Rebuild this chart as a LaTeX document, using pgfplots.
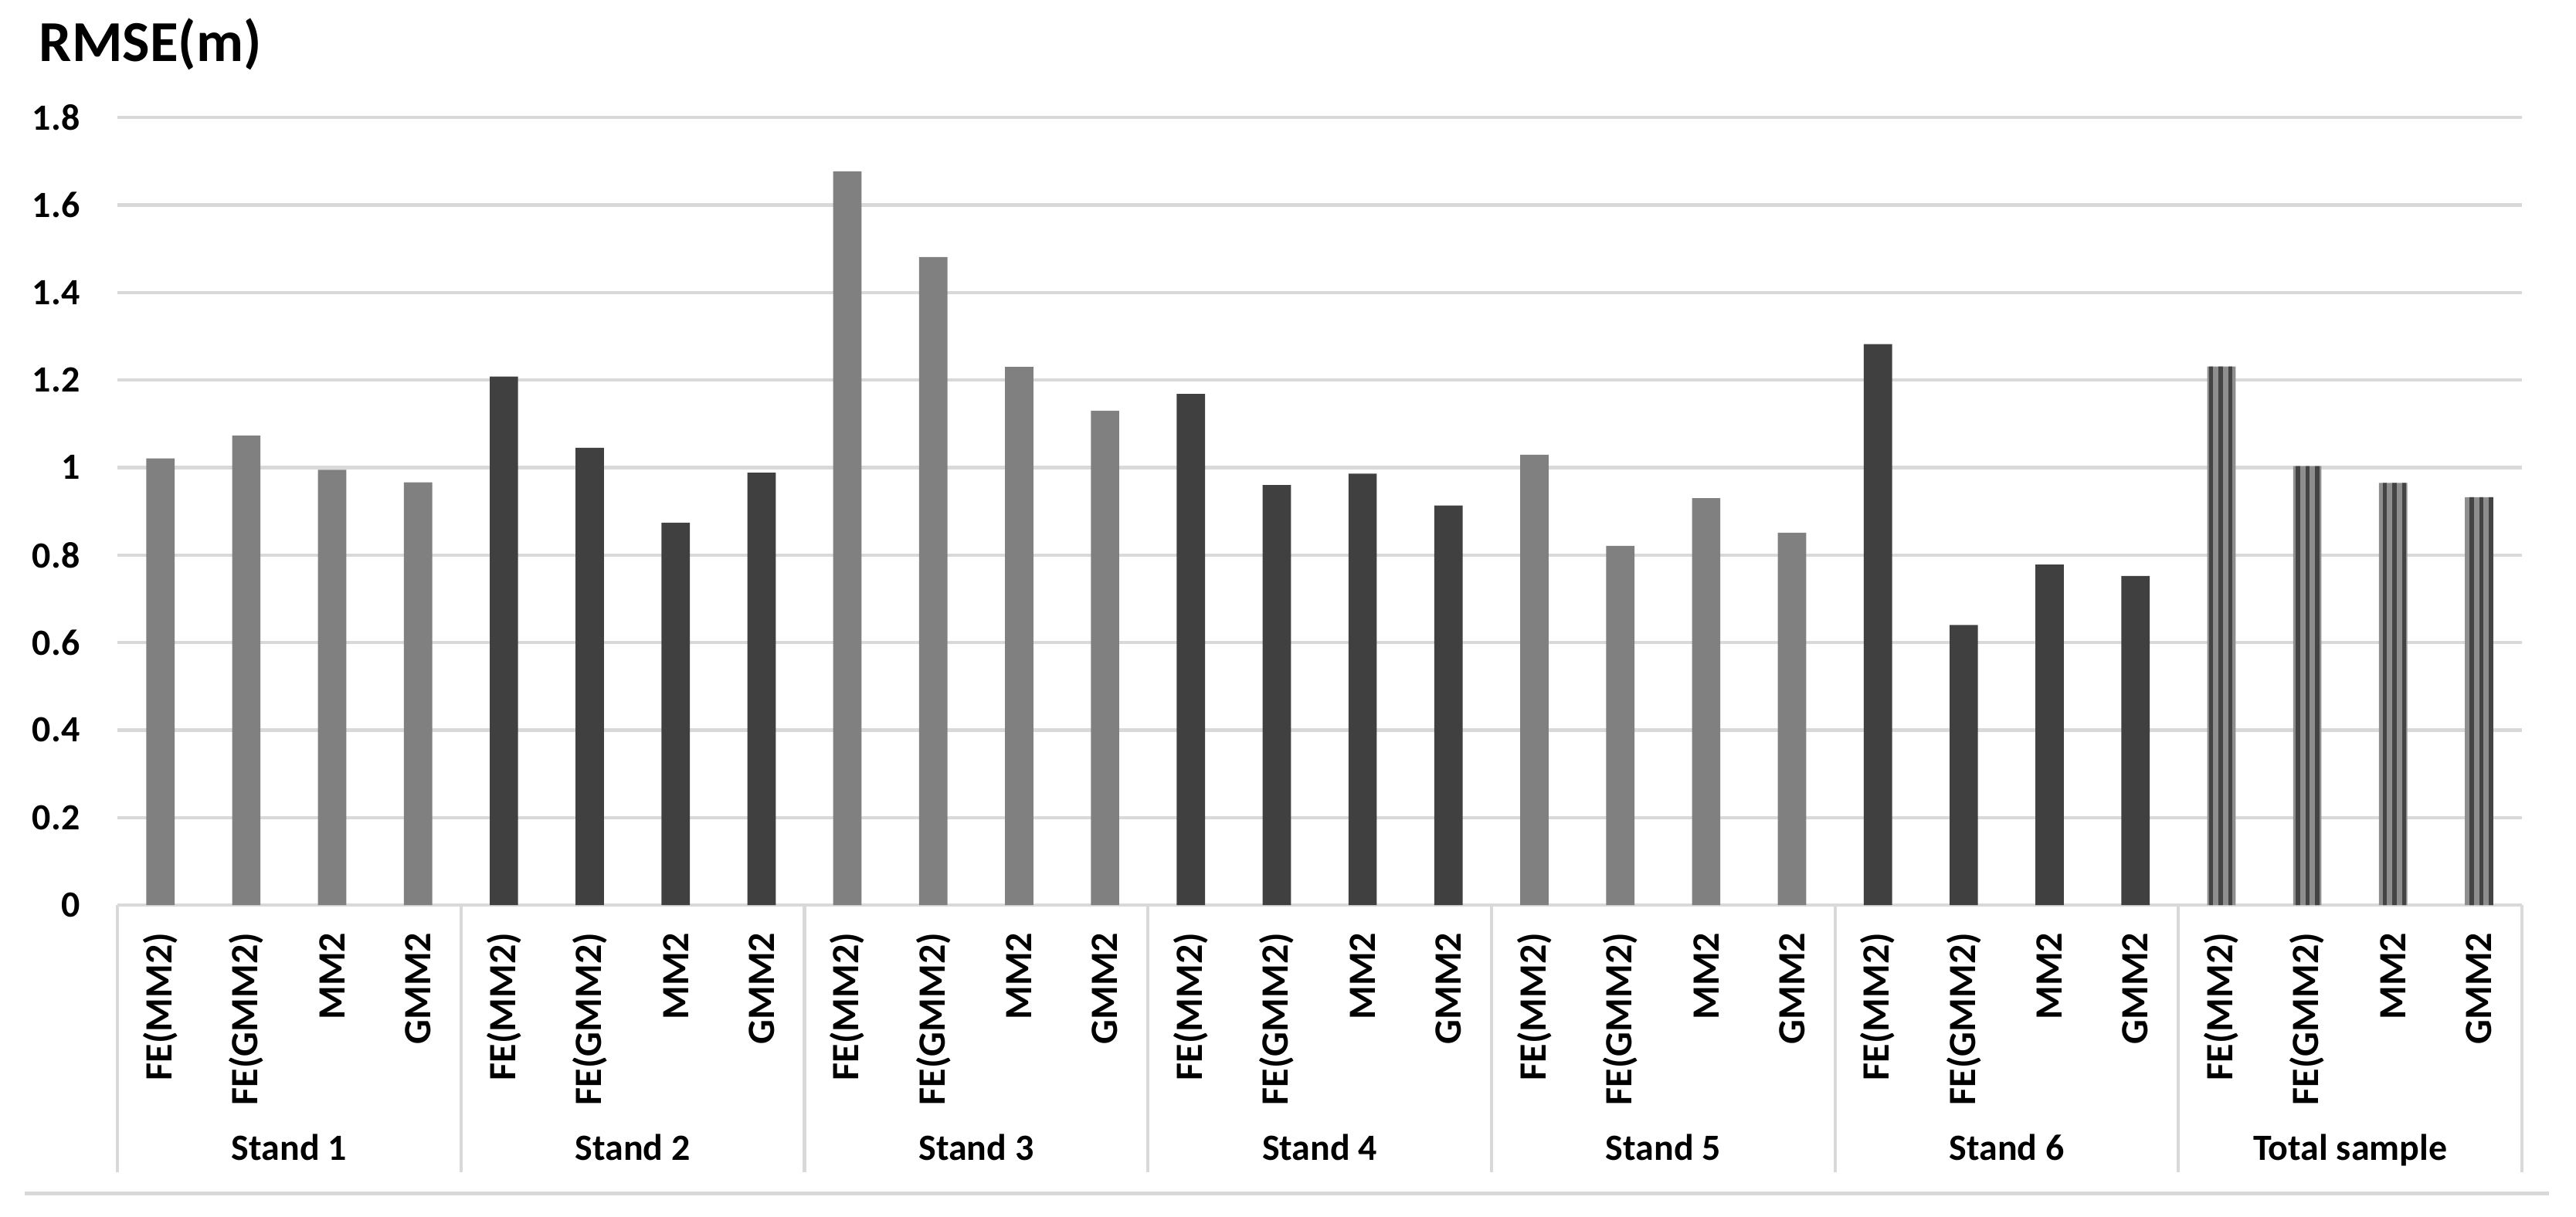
\documentclass[border=0pt]{standalone}
\usepackage{fontspec}
\setmainfont{Carlito}
\usepackage{pgfplots}
\pgfplotsset{compat=1.18}
\usetikzlibrary{patterns.meta}
\definecolor{lightbar}{HTML}{808080}
\definecolor{darkbar}{HTML}{404040}
\definecolor{gridc}{HTML}{D9D9D9}
\definecolor{totfill}{HTML}{8E8E8E}
\definecolor{totline}{HTML}{444444}
\newcommand{\lblfont}{\fontsize{11.5}{13}\selectfont\bfseries}
\begin{document}
\begin{tikzpicture}
\path[use as bounding box] (0,0) rectangle (800.4pt,378pt);
\begin{axis}[
  at={(36.5pt,96.7pt)}, anchor=south west,
  scale only axis, width=747.1pt, height=244.8pt,
  xmin=-0.5, xmax=27.5, ymin=0, ymax=1.8,
  enlargelimits=false, clip=false,
  axis line style={draw=none},
  major tick length=0pt,
  ymajorgrids, grid style={gridc, line width=1pt},
  ytick={0,0.2,0.4,0.6,0.8,1,1.2,1.4,1.6,1.8},
  /pgf/number format/fixed,
  /pgf/number format/assume math mode=true,
  yticklabel style={font=\lblfont, inner sep=0pt, anchor=east},
  yticklabel shift=11.5pt,
  xtick={0,...,27},
  xticklabels={FE(MM2),FE(GMM2),MM2,GMM2,FE(MM2),FE(GMM2),MM2,GMM2,FE(MM2),FE(GMM2),MM2,GMM2,FE(MM2),FE(GMM2),MM2,GMM2,FE(MM2),FE(GMM2),MM2,GMM2,FE(MM2),FE(GMM2),MM2,GMM2,FE(MM2),FE(GMM2),MM2,GMM2},
  xticklabel style={rotate=90, anchor=east, inner sep=0pt, font=\fontsize{12}{14}\selectfont\bfseries},
  xticklabel shift=8.4pt,
  ybar, bar width=0.33, bar shift=0pt,
]
% Stands 1, 3, 5 (light)
\addplot[fill=lightbar, draw=none] coordinates {
  (0,1.021) (1,1.073) (2,0.995) (3,0.966)
  (8,1.677) (9,1.481) (10,1.230) (11,1.130)
  (16,1.029) (17,0.821) (18,0.930) (19,0.851)
};
% Stands 2, 4, 6 (dark)
\addplot[fill=darkbar, draw=none] coordinates {
  (4,1.208) (5,1.045) (6,0.874) (7,0.988)
  (12,1.168) (13,0.960) (14,0.986) (15,0.913)
  (20,1.282) (21,0.640) (22,0.778) (23,0.752)
};
% Total sample (patterned)
\addplot[fill=totfill, draw=none, postaction={pattern={Lines[angle=90,distance=3pt,line width=1.4pt]}, pattern color=totline}] coordinates {
  (24,1.231) (25,1.003) (26,0.965) (27,0.932)
};
\pgfplotsinvokeforeach{-0.5,3.5,7.5,11.5,15.5,19.5,23.5,27.5}{
  \draw[gridc, line width=1pt] (axis cs:#1,0) -- ([yshift=-83pt]axis cs:#1,0);
}
\node[anchor=base, font=\lblfont, yshift=-79.2pt] at (axis cs:1.5,0) {Stand 1};
\node[anchor=base, font=\lblfont, yshift=-79.2pt] at (axis cs:5.5,0) {Stand 2};
\node[anchor=base, font=\lblfont, yshift=-79.2pt] at (axis cs:9.5,0) {Stand 3};
\node[anchor=base, font=\lblfont, yshift=-79.2pt] at (axis cs:13.5,0) {Stand 4};
\node[anchor=base, font=\lblfont, yshift=-79.2pt] at (axis cs:17.5,0) {Stand 5};
\node[anchor=base, font=\lblfont, yshift=-79.2pt] at (axis cs:21.5,0) {Stand 6};
\node[anchor=base, font=\lblfont, yshift=-79.2pt] at (axis cs:25.5,0) {Total sample};
\end{axis}
\draw[gridc, line width=1.2pt] (7.7pt,7pt) -- (792pt,7pt);
\node[anchor=base west, inner sep=0pt, font=\fontsize{18}{20}\selectfont\bfseries] at (12pt,359pt) {RMSE(m)};
\end{tikzpicture}
\end{document}
